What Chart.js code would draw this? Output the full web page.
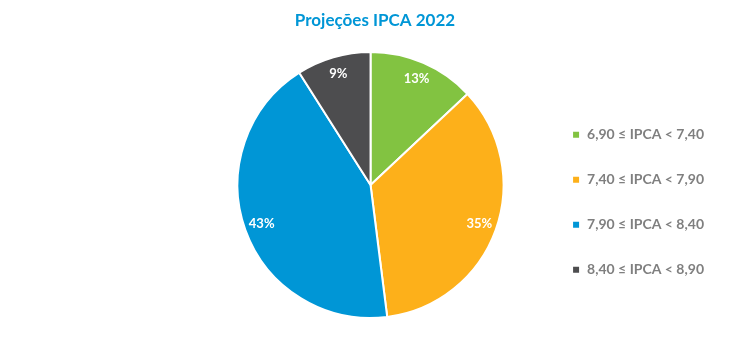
<!DOCTYPE html>
<html>
<head>
<meta charset="utf-8">
<script src="https://cdn.jsdelivr.net/npm/chart.js@4"></script>
<style>
  html, body { margin: 0; padding: 0; background: #fff; }
  #wrap { width: 750px; height: 355px; }
</style>
</head>
<body>
<div id="wrap"><canvas id="myChart" width="750" height="355"></canvas></div>
<script>
// Datos
const titulo = 'Projeções IPCA 2022';
const categorias = ['6,90 ≤ IPCA < 7,40', '7,40 ≤ IPCA < 7,90', '7,90 ≤ IPCA < 8,40', '8,40 ≤ IPCA < 8,90'];
const valores = [13, 35, 43, 9];
const colores = ['#82c341', '#fdb01a', '#0096d6', '#4d4d4f'];

// titulo centrado en todo el canvas (no solo en el area del grafico)
const tituloCentrado = {
    id: 'tituloCentrado',
    afterDraw(chart) {
        const ctx = chart.ctx;
        ctx.save();
        ctx.fillStyle = '#0096d6';
        ctx.font = 'bold 17px Lato';
        ctx.textAlign = 'center';
        ctx.textBaseline = 'middle';
        ctx.fillText(titulo, chart.width / 2, 21);
        ctx.restore();
    }
};

// etiquetas de porcentaje dentro de cada fatia
const etiquetasPie = {
    id: 'etiquetasPie',
    afterDatasetsDraw(chart) {
        const ctx = chart.ctx;
        const meta = chart.getDatasetMeta(0);
        ctx.save();
        ctx.fillStyle = '#ffffff';
        ctx.font = 'bold 13px Lato';
        ctx.textAlign = 'center';
        ctx.textBaseline = 'middle';
        meta.data.forEach((arc, i) => {
            const p = arc.getProps(['x', 'y', 'startAngle', 'endAngle', 'outerRadius'], true);
            const mid = (p.startAngle + p.endAngle) / 2;
            const r = p.outerRadius * 0.87;
            ctx.fillText(valores[i] + '%', p.x + Math.cos(mid) * r, p.y + Math.sin(mid) * r);
        });
        ctx.restore();
    }
};

const ctx = document.getElementById('myChart').getContext('2d');
const myChart = new Chart(ctx, {
    type: 'pie',
    data: {
        labels: categorias,
        datasets: [{
            data: valores,
            backgroundColor: colores,
            borderColor: '#ffffff',
            borderWidth: 2
        }]
    },
    options: {
        responsive: false,
        animation: false,
        layout: { padding: { left: 200, right: 36, top: 51, bottom: 36 } },
        plugins: {
            title: { display: false },
            legend: {
                position: 'right',
                title: { display: true, text: '', padding: { top: 20, bottom: 0 } },
                labels: {
                    boxWidth: 8,
                    boxHeight: 8,
                    padding: 31,
                    color: '#7f7f7f',
                    font: { family: 'Lato', size: 14, weight: 'bold' }
                }
            },
            tooltip: { enabled: false }
        }
    },
    plugins: [etiquetasPie, tituloCentrado]
});
</script>
</body>
</html>
